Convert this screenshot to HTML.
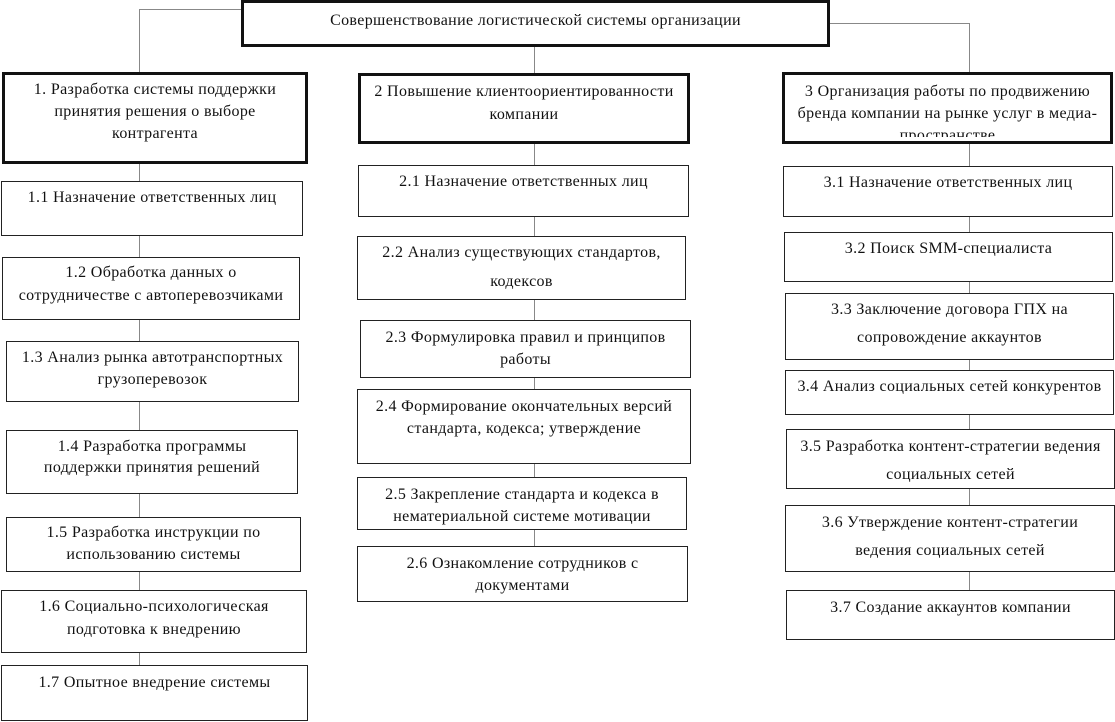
<!DOCTYPE html>
<html><head><meta charset="utf-8"><style>
body{margin:0;width:1115px;height:722px;background:#fff;position:relative;overflow:hidden;font-family:"Liberation Serif",serif;font-size:16px;letter-spacing:0.35px;color:#111}
.b{position:absolute;box-sizing:border-box;border:1px solid #222;text-align:center;overflow:hidden;background:#fff;white-space:nowrap}
.t{border:3px solid #111}
.l{position:absolute;background:#888}
</style></head><body>
<div class="l" style="left:139px;top:9px;width:102px;height:1px"></div>
<div class="l" style="left:139px;top:9px;width:1px;height:64px"></div>
<div class="l" style="left:828px;top:23px;width:141px;height:1px"></div>
<div class="l" style="left:969px;top:23px;width:1px;height:50px"></div>
<div class="l" style="left:534px;top:45px;width:1px;height:29px"></div>
<div class="l" style="left:139px;top:160px;width:1px;height:550px"></div>
<div class="l" style="left:534px;top:140px;width:1px;height:410px"></div>
<div class="l" style="left:969px;top:140px;width:1px;height:455px"></div>

<div class="b t" style="left:241px;top:0;width:589px;height:47px;line-height:22px;padding-top:7px">Совершенствование логистической системы организации</div>

<div class="b t" style="left:2px;top:72px;width:306px;height:92px;line-height:22px;padding-top:4px">1. Разработка системы поддержки<br>принятия решения о выборе<br>контрагента</div>
<div class="b t" style="left:358px;top:73px;width:332px;height:71px;line-height:23px;padding-top:4px">2 Повышение клиентоориентированности<br>компании</div>
<div class="b t" style="left:782px;top:72px;width:331px;height:72px;line-height:22px;padding-top:6px"><div style="height:56px;overflow:hidden">3 Организация работы по продвижению<br>бренда компании на рынке услуг в медиа-<br>пространстве</div></div>

<div class="b" style="left:1px;top:181px;width:302px;height:55px;line-height:22px;padding-top:5px">1.1 Назначение ответственных лиц</div>
<div class="b" style="left:2px;top:257px;width:298px;height:63px;line-height:23px;padding-top:3px">1.2 Обработка данных о<br>сотрудничестве с автоперевозчиками</div>
<div class="b" style="left:6px;top:341px;width:293px;height:61px;line-height:22px;padding-top:5px">1.3 Анализ рынка автотранспортных<br>грузоперевозок</div>
<div class="b" style="left:6px;top:430px;width:292px;height:64px;line-height:21px;padding-top:5px">1.4 Разработка программы<br>поддержки принятия решений</div>
<div class="b" style="left:6px;top:517px;width:295px;height:55px;line-height:22px;padding-top:4px">1.5 Разработка инструкции по<br>использованию системы</div>
<div class="b" style="left:1px;top:590px;width:306px;height:63px;line-height:23px;padding-top:4px">1.6 Социально-психологическая<br>подготовка к внедрению</div>
<div class="b" style="left:1px;top:665px;width:307px;height:56px;line-height:22px;padding-top:6px">1.7 Опытное внедрение системы</div>

<div class="b" style="left:358px;top:165px;width:331px;height:52px;line-height:22px;padding-top:5px">2.1 Назначение ответственных лиц</div>
<div class="b" style="left:357px;top:236px;width:329px;height:64px;line-height:29px;padding-top:1px">2.2 Анализ существующих стандартов,<br>кодексов</div>
<div class="b" style="left:360px;top:320px;width:331px;height:58px;line-height:22px;padding-top:6px">2.3 Формулировка правил и принципов<br>работы</div>
<div class="b" style="left:357px;top:389px;width:334px;height:75px;line-height:22px;padding-top:6px">2.4 Формирование окончательных версий<br>стандарта, кодекса; утверждение</div>
<div class="b" style="left:357px;top:477px;width:330px;height:53px;line-height:22px;padding-top:6px">2.5 Закрепление стандарта и кодекса в<br>нематериальной системе мотивации</div>
<div class="b" style="left:357px;top:546px;width:331px;height:56px;line-height:22px;padding-top:6px">2.6 Ознакомление сотрудников с<br>документами</div>

<div class="b" style="left:783px;top:166px;width:330px;height:51px;line-height:22px;padding-top:5px">3.1 Назначение ответственных лиц</div>
<div class="b" style="left:784px;top:232px;width:329px;height:50px;line-height:22px;padding-top:5px">3.2 Поиск SMM-специалиста</div>
<div class="b" style="left:785px;top:293px;width:329px;height:67px;line-height:28px;padding-top:2px">3.3 Заключение договора ГПХ на<br>сопровождение аккаунтов</div>
<div class="b" style="left:785px;top:370px;width:329px;height:45px;line-height:22px;padding-top:5px">3.4 Анализ социальных сетей конкурентов</div>
<div class="b" style="left:786px;top:429px;width:329px;height:60px;line-height:28px;padding-top:3px">3.5 Разработка контент-стратегии ведения<br>социальных сетей</div>
<div class="b" style="left:785px;top:505px;width:330px;height:67px;line-height:28px;padding-top:3px">3.6 Утверждение контент-стратегии<br>ведения социальных сетей</div>
<div class="b" style="left:786px;top:590px;width:329px;height:50px;line-height:22px;padding-top:6px">3.7 Создание аккаунтов компании</div>
</body></html>
